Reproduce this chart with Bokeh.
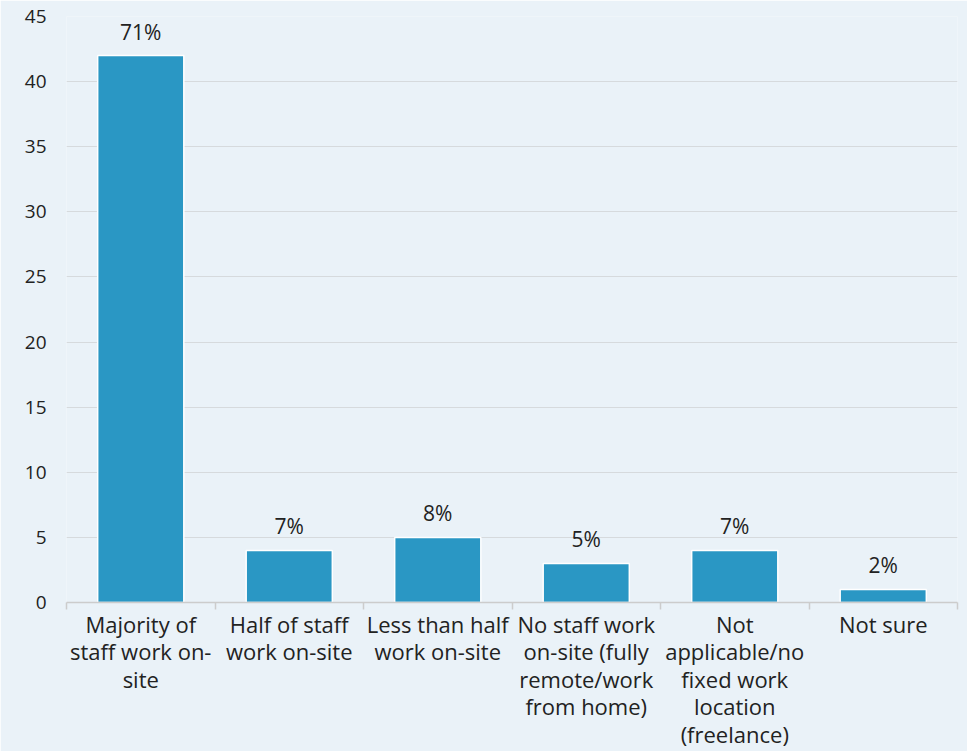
from bokeh.plotting import figure
from bokeh.models import ColumnDataSource, FixedTicker, Range1d
from bokeh.core.properties import value
from bokeh.embed import file_html
from bokeh.resources import INLINE

categories = [
    "Majority of\nstaff work on-\nsite",
    "Half of staff\nwork on-site",
    "Less than half\nwork on-site",
    "No staff work\non-site (fully\nremote/work\nfrom home)",
    "Not\napplicable/no\nfixed work\nlocation\n(freelance)",
    "Not sure",
]
counts = [42, 4, 5, 3, 4, 1]
percent_labels = ["71%", "7%", "8%", "5%", "7%", "2%"]
y_ticks = [0, 5, 10, 15, 20, 25, 30, 35, 40, 45]

FONT = "Open Sans"
BG = "#EAF2F8"
BAR = "#2A97C4"
TEXT = "#222222"

xs = [i + 0.5 for i in range(len(categories))]
src = ColumnDataSource(dict(x=xs, top=counts, lab=percent_labels))

p = figure(width=967, height=751, output_backend="svg", toolbar_location=None,
           x_range=Range1d(0, len(categories)), y_range=Range1d(0, 45),
           min_border_left=66, min_border_right=10, min_border_top=16, min_border_bottom=148)
p.background_fill_color = BG
p.border_fill_color = BG
p.outline_line_color = None

p.vbar(x="x", top="top", width=0.58, source=src, fill_color=BAR,
       line_color="white", line_width=1.5)
p.text(x="x", y="top", text="lab", source=src, text_align="center",
       text_baseline="bottom", y_offset=-10, text_font=value(FONT),
       text_font_size="21px", text_color=TEXT)

p.xgrid.grid_line_color = None
p.ygrid.grid_line_color = "#D6DADD"
p.ygrid.grid_line_width = 1.2
p.yaxis.ticker = FixedTicker(ticks=y_ticks)
p.yaxis.axis_line_color = None
p.yaxis.major_tick_line_color = None
p.yaxis.minor_tick_line_color = None
p.yaxis.major_label_standoff = 14
p.yaxis.major_label_text_font = FONT
p.yaxis.major_label_text_font_size = "19px"
p.yaxis.major_label_text_color = TEXT

p.xaxis.ticker = FixedTicker(ticks=xs, minor_ticks=list(range(len(categories) + 1)))
p.xaxis.major_label_overrides = {x: c for x, c in zip(xs, categories)}
p.xaxis.axis_line_color = "#CCCCCC"
p.xaxis.axis_line_width = 1.5
p.xaxis.major_tick_line_color = None
p.xaxis.major_tick_out = 0
p.xaxis.major_tick_in = 0
p.xaxis.minor_tick_line_color = "#CCCCCC"
p.xaxis.minor_tick_line_width = 1.5
p.xaxis.minor_tick_out = 7
p.xaxis.minor_tick_in = 0
p.xaxis.major_label_standoff = -1
p.xaxis.major_label_text_font = FONT
p.xaxis.major_label_text_font_size = "22px"
p.xaxis.major_label_text_color = TEXT
p.xaxis.major_label_text_line_height = 0.92

open("out.html", "w").write(file_html(p, INLINE))
